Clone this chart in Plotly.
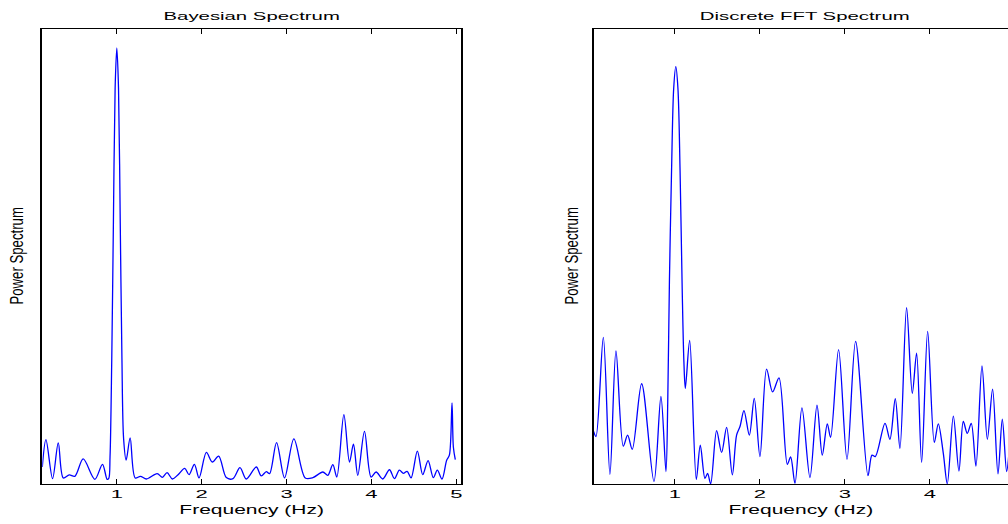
import plotly.graph_objects as go

# ---------------- data ----------------
bayes_freq = [0.122, 0.165, 0.243, 0.310, 0.369, 0.439, 0.506, 0.604, 0.741, 0.831, 0.886, 0.905,
              0.920, 0.940, 0.960, 0.980, 1.000, 1.020, 1.040, 1.060, 1.080, 1.110, 1.157, 1.216,
              1.278, 1.349, 1.475, 1.537, 1.592, 1.655, 1.722, 1.800, 1.851, 1.914, 1.969, 2.055,
              2.125, 2.200, 2.290, 2.369, 2.451, 2.525, 2.643, 2.702, 2.761, 2.800, 2.882, 2.976,
              3.086, 3.220, 3.310, 3.427, 3.486, 3.545, 3.592, 3.675, 3.741, 3.788, 3.839, 3.918,
              3.996, 4.055, 4.133, 4.212, 4.271, 4.329, 4.376, 4.420, 4.467, 4.541, 4.604, 4.667,
              4.729, 4.776, 4.831, 4.886, 4.918, 4.949, 4.965, 4.988]
bayes_power = [0.038, 0.098, 0.0125, 0.091, 0.014, 0.0205, 0.0176, 0.0557, 0.011, 0.044, 0.011, 0.013,
               0.060, 0.270, 0.580, 0.870, 0.959, 0.870, 0.580, 0.280, 0.100, 0.053, 0.102, 0.014,
               0.0176, 0.0117, 0.0234, 0.0154, 0.0256, 0.0117, 0.0212, 0.035, 0.0212, 0.044, 0.014, 0.070,
               0.049, 0.062, 0.0147, 0.0125, 0.0366, 0.0117, 0.038, 0.0183, 0.0278, 0.0234, 0.0916, 0.014,
               0.100, 0.014, 0.0147, 0.027, 0.0198, 0.0432, 0.016, 0.153, 0.049, 0.088, 0.0198, 0.1165,
               0.016, 0.027, 0.0117, 0.032, 0.0125, 0.031, 0.024, 0.0286, 0.014, 0.073, 0.0212, 0.052,
               0.0147, 0.031, 0.0117, 0.053, 0.064, 0.179, 0.082, 0.054]

fft_freq = [0.043, 0.071, 0.157, 0.235, 0.306, 0.392, 0.443, 0.498, 0.608, 0.753, 0.835, 0.894,
            0.915, 0.935, 0.960, 0.985, 1.010, 1.035, 1.060, 1.085, 1.105, 1.122, 1.173, 1.251,
            1.298, 1.353, 1.384, 1.420, 1.490, 1.549, 1.608, 1.675, 1.725, 1.765, 1.812, 1.875,
            1.933, 2.000, 2.078, 2.149, 2.224, 2.322, 2.361, 2.412, 2.494, 2.588, 2.671, 2.733,
            2.792, 2.831, 2.925, 3.024, 3.125, 3.271, 3.318, 3.357, 3.471, 3.529, 3.592, 3.647,
            3.725, 3.792, 3.843, 3.902, 3.973, 4.051, 4.098, 4.157, 4.204, 4.275, 4.341, 4.392,
            4.439, 4.486, 4.541, 4.612, 4.675, 4.737, 4.800, 4.851, 4.902, 4.930]
fft_power = [0.116, 0.105, 0.323, 0.022, 0.293, 0.084, 0.108, 0.077, 0.221, 0.006, 0.193, 0.028,
             0.180, 0.449, 0.690, 0.870, 0.918, 0.870, 0.690, 0.430, 0.270, 0.211, 0.316, 0.011,
             0.086, 0.013, 0.024, 0.001, 0.118, 0.070, 0.125, 0.021, 0.108, 0.127, 0.162, 0.108,
             0.189, 0.061, 0.253, 0.203, 0.234, 0.044, 0.060, 0.002, 0.168, 0.015, 0.174, 0.064,
             0.133, 0.103, 0.296, 0.055, 0.314, 0.019, 0.064, 0.061, 0.134, 0.099, 0.188, 0.079,
             0.388, 0.200, 0.288, 0.048, 0.336, 0.092, 0.133, 0.068, 0.001, 0.150, 0.029, 0.138,
             0.112, 0.134, 0.040, 0.260, 0.099, 0.209, 0.023, 0.143, 0.028, 0.070]

tick_values = [1, 2, 3, 4, 5]
tick_labels = ["1", "2", "3", "4", "5"]
panel_titles = ["Bayesian Spectrum", "Discrete FFT Spectrum"]
x_label = "Frequency (Hz)"
y_label = "Power Spectrum"

# ---------------- figure ----------------
W, H = 1008, 524
FONT = "Liberation Sans, Arial, Helvetica, sans-serif"

fig = go.Figure()
fig.add_trace(go.Scatter(x=bayes_freq, y=bayes_power, mode="lines",
                         line=dict(color="#0000ff", width=1.3, shape="spline", smoothing=0.9),
                         xaxis="x", yaxis="y", showlegend=False, hoverinfo="skip"))
fig.add_trace(go.Scatter(x=fft_freq, y=fft_power, mode="lines",
                         line=dict(color="#0000ff", width=1.3, shape="spline", smoothing=0.9),
                         xaxis="x2", yaxis="y2", showlegend=False, hoverinfo="skip"))

ytop, ybot = 29.3, 484.3
ydom = [1 - ybot / H, 1 - ytop / H]
left_dom = [42.3 / W, 461.0 / W]
right_dom = [593.7 / W, 1.0]

xcommon = dict(tickmode="array", tickvals=tick_values, ticktext=tick_labels,
               ticks="inside", ticklen=5, tickwidth=1, tickcolor="#000000",
               showline=True, linecolor="#000000", linewidth=1, mirror="ticks",
               showgrid=False, zeroline=False,
               tickfont=dict(family=FONT, size=11, color="#000000"),
               title=dict(text=x_label, font=dict(family=FONT, size=12, color="#000000"), standoff=6))
ycommon = dict(showticklabels=False, ticks="", showgrid=False, zeroline=False,
               showline=True, linecolor="#000000", linewidth=1.5, range=[0, 1])

fig.update_layout(
    width=W, height=H, margin=dict(l=0, r=0, t=0, b=0),
    paper_bgcolor="#ffffff", plot_bgcolor="#ffffff",
    xaxis=dict(domain=left_dom, range=[0.122, 5.055], anchor="y", **xcommon),
    xaxis2=dict(domain=right_dom, range=[0.044, 0.044 + (W - 593.7) / 85.0], anchor="y2", **xcommon),
    yaxis=dict(domain=ydom, anchor="x", mirror=True, **ycommon),
    yaxis2=dict(domain=ydom, anchor="x2", mirror=False, **ycommon),
    showlegend=False,
)

# panel titles and y labels
tfont = dict(family=FONT, size=11, color="#000000")
fig.add_annotation(text=panel_titles[0], x=251.6 / W, y=1 - 15.5 / H, xref="paper", yref="paper",
                   showarrow=False, xanchor="center", yanchor="middle", font=tfont)
fig.add_annotation(text=panel_titles[1], x=805 / W, y=1 - 15.5 / H, xref="paper", yref="paper",
                   showarrow=False, xanchor="center", yanchor="middle", font=tfont)
fig.add_annotation(text=y_label, x=16.5 / W, y=1 - 256 / H, xref="paper", yref="paper",
                   showarrow=False, xanchor="center", yanchor="middle", textangle=-90, font=tfont)
fig.add_annotation(text=y_label, x=571.5 / W, y=1 - 256 / H, xref="paper", yref="paper",
                   showarrow=False, xanchor="center", yanchor="middle", textangle=-90, font=tfont)

# Page without the default body margin, and the reference's horizontally stretched text look.
post = """
document.body.style.margin = '0';
document.body.style.overflow = 'hidden';
var gd = document.getElementById('{plot_id}');
function stretch(el, sx, sy){
  var b = el.getBBox();
  var cx = b.x + b.width/2, cy = b.y + b.height/2;
  var tr = el.getAttribute('transform') || '';
  el.setAttribute('transform', tr + ' translate(' + cx + ',' + cy + ') scale(' + sx + ',' + sy + ') translate(' + (-cx) + ',' + (-cy) + ')');
}
gd.querySelectorAll('.xtick text, .x2tick text').forEach(function(t){ stretch(t, 2.0, 1.0); });
gd.querySelectorAll('.xtitle, .x2title').forEach(function(t){ stretch(t, 1.75, 1.0); });
gd.querySelectorAll('.annotation').forEach(function(a, i){
  var t = a.querySelector('text.annotation-text');
  if (!t) return;
  if (i < 2) { stretch(t, 1.85, 1.0); } else { stretch(t, 1.2, 1.6); }
});
"""

fig.write_html("out.html", post_script=post, config={"displayModeBar": False})
